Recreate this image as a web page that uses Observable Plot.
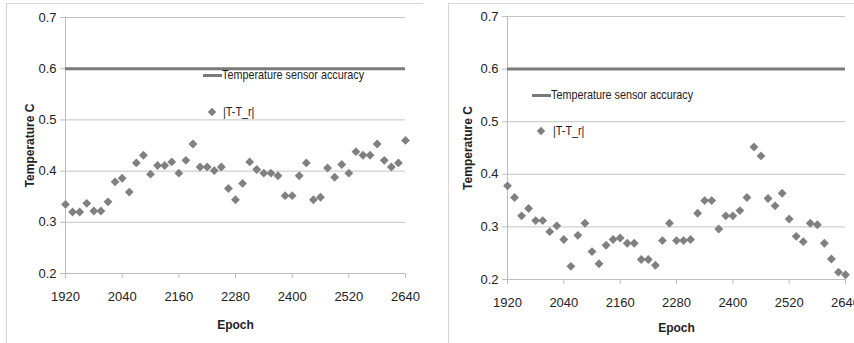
<!DOCTYPE html>
<html>
<head>
<meta charset="utf-8">
<script src="https://cdn.jsdelivr.net/npm/d3@7"></script>
<script src="https://cdn.jsdelivr.net/npm/@observablehq/plot@0.6"></script>
<style>
  html, body { margin: 0; padding: 0; background: #fff; }
  #wrap { position: relative; width: 854px; height: 343px; overflow: hidden;
    font-family: "Liberation Sans", Arial, sans-serif; }
  .panel { position: absolute; top: 0; }
  .leg { position: absolute; font-size: 13px; color: #222; white-space: nowrap; transform: scaleX(0.83); transform-origin: 0 50%; }
  .legline { position: absolute; height: 3px; background: #7a7a7a; }
  .legdia { position: absolute; width: 6px; height: 6px; background: #808080; transform: rotate(45deg); }
  .border { position: absolute; border-style: solid; border-color: #d6d6d6; border-width: 0; }
</style>
</head>
<body>
<div id="wrap"></div>
<script>
const epochs = [1920,1935,1950,1965,1980,1995,2010,2025,2040,2055,2070,2085,2100,2115,2130,2145,2160,2175,2190,2205,2220,2235,2250,2265,2280,2295,2310,2325,2340,2355,2370,2385,2400,2415,2430,2445,2460,2475,2490,2505,2520,2535,2550,2565,2580,2595,2610,2625,2640];
const leftValues = [0.335,0.320,0.320,0.337,0.322,0.322,0.340,0.379,0.386,0.359,0.416,0.431,0.394,0.411,0.411,0.418,0.396,0.421,0.453,0.408,0.408,0.401,0.408,0.366,0.344,0.376,0.418,0.403,0.396,0.396,0.391,0.352,0.352,0.391,0.416,0.344,0.349,0.406,0.388,0.413,0.396,0.438,0.431,0.431,0.453,0.421,0.408,0.416,0.460];
const rightValues = [0.378,0.356,0.321,0.335,0.312,0.312,0.291,0.302,0.276,0.225,0.284,0.307,0.253,0.230,0.265,0.276,0.279,0.269,0.269,0.238,0.238,0.227,0.274,0.307,0.274,0.274,0.276,0.326,0.350,0.350,0.296,0.321,0.321,0.331,0.356,0.452,0.435,0.354,0.340,0.364,0.315,0.282,0.272,0.307,0.304,0.269,0.239,0.214,0.209];
const accuracy = 0.6;
const xTicks = [1920,2040,2160,2280,2400,2520,2640];
const yTicks = [0.2,0.3,0.4,0.5,0.6,0.7];
const lineLabel = "Temperature sensor accuracy";
const dotLabel = "|T-T_r|";
const xTitle = "Epoch";
const yTitle = "Temperature C";

function makePanel(values, opts) {
  const data = epochs.map((e, i) => ({epoch: e, v: values[i]}));
  const fx = [epochs[0], epochs[epochs.length - 1]];
  const svg = Plot.plot({
    width: opts.width, height: 343,
    marginLeft: opts.ml, marginRight: opts.mr, marginTop: opts.mt, marginBottom: opts.mb,
    style: {fontFamily: '"Liberation Sans", Arial, sans-serif', fontSize: "13px", color: "#222", background: "transparent", overflow: "visible"},
    x: {domain: [1920, 2640]},
    y: {domain: [0.2, 0.7]},
    marks: [
      Plot.ruleY(yTicks, {stroke: "#c4c4c4", strokeWidth: 1}),
      Plot.ruleX([1920], {stroke: "#bdbdbd", strokeWidth: 1}),
      Plot.ruleY([0.2], {stroke: "#bdbdbd", strokeWidth: 1}),
      Plot.axisY({ticks: yTicks, tickSize: 5, tickPadding: 4, tickFormat: d3.format(".1f"), stroke: "#bdbdbd",
        label: yTitle, labelAnchor: "center", labelArrow: "none", labelOffset: opts.ylo}),
      Plot.axisX({ticks: xTicks, tickSize: 5, tickPadding: 13, tickFormat: d => String(d), stroke: "#bdbdbd",
        label: xTitle, labelAnchor: "center", labelArrow: "none", labelOffset: opts.xlo}),
      Plot.ruleY([accuracy], {x1: fx[0], x2: fx[1], stroke: "#7a7a7a", strokeWidth: 3}),
      Plot.dot(data, {x: "epoch", y: "v", symbol: "diamond2", r: 4, fill: "#808080", stroke: "none"})
    ]
  });
  d3.select(svg).selectAll('[aria-label="y-axis label"], [aria-label="x-axis label"]')
    .attr("font-weight", "bold").attr("font-size", 12);
  return svg;
}

const wrap = document.getElementById("wrap");

function addEl(cls, style, text) {
  const d = document.createElement("div");
  d.className = cls;
  Object.assign(d.style, style);
  if (text) d.textContent = text;
  wrap.appendChild(d);
}

// borders of the two panels
addEl("border", {left: "6px", top: "3px", width: "416px", height: "345px", borderLeftWidth: "1px", borderTopWidth: "1px"});
addEl("border", {left: "448px", top: "3px", width: "420px", height: "345px", borderLeftWidth: "1px", borderTopWidth: "1px"});

const p1 = document.createElement("div"); p1.className = "panel"; p1.style.left = "0px";
p1.appendChild(makePanel(leftValues, {width: 425, ml: 65, mr: 20, mt: 17, mb: 70, ylo: 40, xlo: 55}));
wrap.appendChild(p1);
const p2 = document.createElement("div"); p2.className = "panel"; p2.style.left = "425px";
p2.appendChild(makePanel(rightValues, {width: 429, ml: 82, mr: 9, mt: 16, mb: 64, ylo: 44, xlo: 52}));
wrap.appendChild(p2);

// legends
addEl("legline", {left: "203px", top: "74px", width: "19px"});
addEl("leg", {left: "222px", top: "67px"}, lineLabel);
addEl("legdia", {left: "209px", top: "109px"});
addEl("leg", {left: "223px", top: "104px"}, dotLabel);

addEl("legline", {left: "532px", top: "94px", width: "19px"});
addEl("leg", {left: "551px", top: "87px"}, lineLabel);
addEl("legdia", {left: "538px", top: "128px"});
addEl("leg", {left: "553px", top: "123px"}, dotLabel);
</script>
</body>
</html>
